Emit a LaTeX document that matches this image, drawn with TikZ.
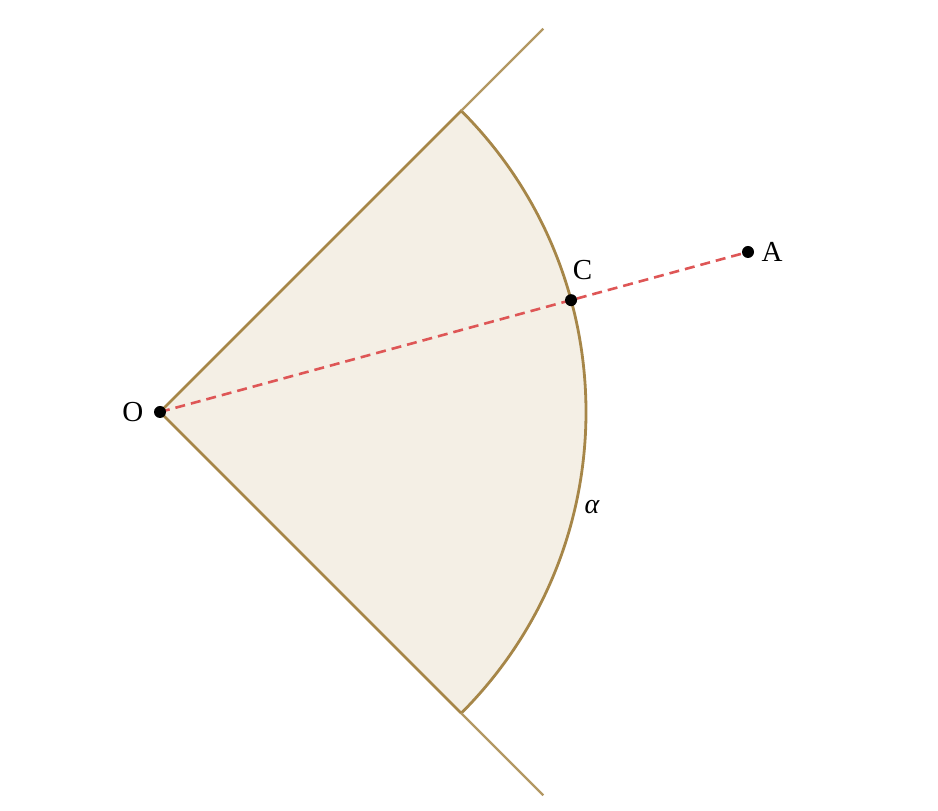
\documentclass[tikz,border=0pt]{standalone}
\usepackage{fontspec}
\setmainfont{Liberation Serif}
\usepackage{tikz}
\usetikzlibrary{calc,positioning}
\definecolor{sectorline}{RGB}{166,134,72}
\definecolor{sectorfill}{RGB}{244,239,229}
\definecolor{rayred}{RGB}{222,86,86}

\begin{document}
\begin{tikzpicture}[x=1pt,y=1pt,
	dot/.style={circle,fill=black,inner sep=0pt,minimum size=12pt},
	lbl/.style={font=\fontsize{29}{33}\selectfont},
	edgeline/.style={draw=sectorline,line width=2.8pt},
	rayline/.style={draw=sectorline!85,line width=2.2pt},
	dashline/.style={draw=rayred,line width=2.6pt,dash pattern=on 10pt off 6pt}]
\useasboundingbox (0,0) rectangle (938,811);
\coordinate (O) at (160,399);
\coordinate (P) at ($(O)+(45:426)$);
\coordinate (Q) at ($(O)+(-45:426)$);
\coordinate (Pe) at ($(O)+(45:542)$);
\coordinate (Qe) at ($(O)+(-45:542)$);
% sector
\fill[sectorfill] (O) -- (P) arc (45:-45:426) -- cycle;
\path[edgeline] (Q) -- (O) -- (P) arc (45:-45:426);
\path[rayline] (P) -- (Pe) (Q) -- (Qe);
% points
\coordinate (A) at (748,559);
\coordinate (C) at ($(O)+(15.22:426)$);
\path[dashline] (O) -- (A);
\node[dot] (o) at (O) {};
\node[dot] (a) at (A) {};
\node[dot] (c) at (C) {};
\node[lbl,left=7pt of o] (olbl) {O};
\node[lbl,right=4pt of a] (albl) {A};
\node[lbl,above right=12pt and -6pt of c] (clbl) {C};
\node[font=\fontsize{28}{32}\selectfont\itshape] (alpha) at (592,304) {α};
\end{tikzpicture}
\end{document}
